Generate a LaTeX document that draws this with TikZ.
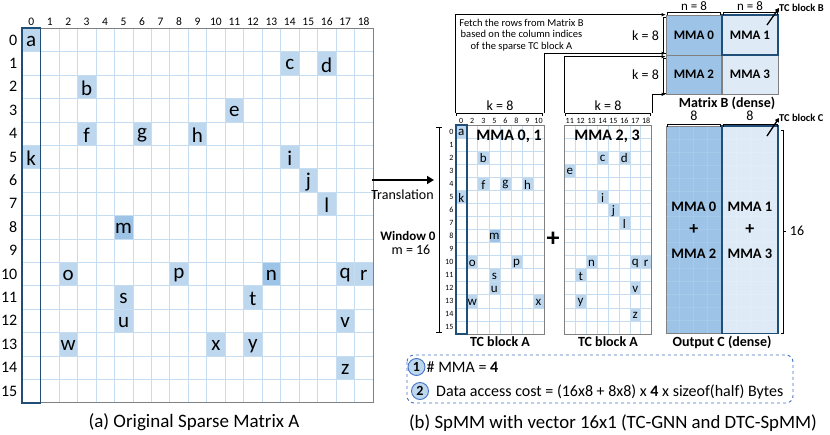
\documentclass[tikz,border=0pt]{standalone}
\usepackage{fontspec}
\setmainfont{Carlito}
\usetikzlibrary{arrows.meta,calc}
\definecolor{cellblue}{HTML}{BDD7EE}
\definecolor{cellbluedark}{HTML}{9DC3E6}
\definecolor{gridblue}{HTML}{C5DCF1}
\definecolor{darkblue}{HTML}{1F4E79}
\definecolor{lightfill}{HTML}{DEEBF7}
\definecolor{bordergray}{HTML}{808080}
\definecolor{legendblue}{HTML}{4472C4}
\newcommand{\fsz}[1]{\fontsize{#1}{#1}\selectfont}
\tikzset{
  grid line/.style={draw=gridblue, line width=0.6pt},
  faint line/.style={draw=white, opacity=0.12, line width=0.6pt},
  outer/.style={draw=bordergray, line width=0.8pt},
  hilite/.style={draw=darkblue, line width=1.8pt},
  bigletter/.style={inner sep=0pt, font=\fsz{21}, yshift=-1.5pt},
  smallletter/.style={inner sep=0pt, font=\fsz{13}, yshift=-0.8pt},
  collabel/.style={inner sep=0pt, font=\fsz{11.5}},
  rowlabel/.style={inner sep=0pt, font=\fsz{16}, anchor=east},
  tinylabel/.style={inner sep=0pt, font=\fsz{8}},
  boldlabel/.style={inner sep=0pt, font=\bfseries\fsz{14}},
  plainlabel/.style={inner sep=0pt, font=\fsz{14}},
  bracket/.style={draw=black, line width=0.6pt},
  fetch/.style={draw=black, line width=0.7pt, -{Latex[length=4pt,width=3.5pt]}},
  callout/.style={draw=black, line width=1.3pt, -{Triangle[length=4pt,width=4.5pt]}},
  bcell/.style={minimum width=55.7pt, inner sep=0pt, font=\bfseries\fsz{13}, draw=bordergray, line width=0.6pt},
  numcircle/.style={circle, draw=legendblue, fill=cellblue, line width=0.9pt, minimum size=17pt, inner sep=0pt, font=\bfseries\fsz{14}},
}
\begin{document}
\begin{tikzpicture}[x=1pt,y=-1pt]
\useasboundingbox (0,0) rectangle (830,435);
\fill[white] (0,0) rectangle (830,435);

% ================= Left matrix =================
\def\LX{22} \def\LY{28.3} \def\LW{18.47} \def\LH{23.4}
\foreach \c/\r/\t in {0/0/a,14/1/c,16/1/d,3/2/b,11/3/e,3/4/f,6/4/g,9/4/h,0/5/k,14/5/i,15/6/j,16/7/l,2/10/o,8/10/p,17/10/q,18/10/r,5/11/s,12/11/t,5/12/u,17/12/v,2/13/w,10/13/x,12/13/y,17/14/z}{
  \fill[cellblue] (\LX+\c*\LW,\LY+\r*\LH) rectangle ++(\LW,\LH);
}
\foreach \c/\r in {5/8,13/10}{
  \fill[cellbluedark] (\LX+\c*\LW,\LY+\r*\LH) rectangle ++(\LW,\LH);
}
\foreach \i in {1,...,18} \draw[grid line] (\LX+\i*\LW,\LY) -- ++(0,16*\LH);
\foreach \j in {1,...,15} \draw[grid line] (\LX,\LY+\j*\LH) -- ++(19*\LW,0);
\draw[outer] (\LX,\LY) rectangle ++(19*\LW,16*\LH);
\foreach \c/\r/\t in {0/0/a,14/1/c,16/1/d,3/2/b,11/3/e,3/4/f,6/4/g,9/4/h,0/5/k,14/5/i,15/6/j,16/7/l,5/8/m,2/10/o,8/10/p,13/10/n,17/10/q,18/10/r,5/11/s,12/11/t,5/12/u,17/12/v,2/13/w,10/13/x,12/13/y,17/14/z}{
  \node[bigletter] (L-\t) at (\LX+\c*\LW+0.5*\LW,\LY+\r*\LH+0.5*\LH) {\t};
}
\draw[hilite] (\LX,\LY) rectangle ++(\LW,16*\LH);
\foreach \i in {0,...,18} \node[collabel] (LC-\i) at (\LX+\i*\LW+0.5*\LW,21.5) {\i};
\foreach \j in {0,...,15} \node[rowlabel] (LR-\j) at (17.5,\LY+\j*\LH+0.5*\LH) {\j};
\node[font=\fsz{19}, inner sep=0pt] (capA) at (194,422) {(a) Original Sparse Matrix A};

% ================= Translation =================
\coordinate (trS) at (372,180);
\coordinate (trE) at (434,180);
\draw[line width=2.2pt, -{Triangle[length=7pt,width=8pt]}] (trS) -- (trE);
\node[plainlabel] (trans) at (402.5,195) {Translation};
\node[font=\bfseries\fsz{13}, inner sep=0pt] (win) at (408,236) {Window 0};
\node[plainlabel] (mlab) at (411,250) {m = 16};
\coordinate (wbT) at (439,127);
\coordinate (wbB) at (439,332);
\draw[bracket] (wbT) -- (wbB);
\draw[bracket] ([xshift=-3pt]wbT) -- ([xshift=3pt]wbT);
\draw[bracket] ([xshift=-3pt]wbB) -- ([xshift=3pt]wbB);

% ================= TC block A (1) =================
\def\AX{455.7} \def\AY{125} \def\AW{11.04} \def\AH{13.06}
\foreach \c/\r/\t in {0/0/a,0/5/k,2/2/b,2/4/f,4/4/g,6/4/h,1/10/o,5/10/p,3/11/s,3/12/u,1/13/w,7/13/x}{
  \fill[cellblue] (\AX+\c*\AW,\AY+\r*\AH) rectangle ++(\AW,\AH);
}
\fill[cellbluedark] (\AX+3*\AW,\AY+8*\AH) rectangle ++(\AW,\AH);
\foreach \i in {1,...,7} \draw[grid line] (\AX+\i*\AW,\AY) -- ++(0,16*\AH);
\foreach \j in {1,...,15} \draw[grid line] (\AX,\AY+\j*\AH) -- ++(8*\AW,0);
\draw[outer] (\AX,\AY) rectangle ++(8*\AW,16*\AH);
\foreach \c/\r/\t in {0/0/a,0/5/k,2/2/b,2/4/f,4/4/g,6/4/h,3/8/m,1/10/o,5/10/p,3/11/s,3/12/u,1/13/w,7/13/x}{
  \node[smallletter] (A-\t) at (\AX+\c*\AW+0.5*\AW,\AY+\r*\AH+0.5*\AH) {\t};
}
\draw[hilite] (\AX,\AY) rectangle ++(\AW,16*\AH);
\foreach \lab [count=\i from 0] in {0,2,3,5,6,8,9,10}
  \node[tinylabel] (AC-\i) at (\AX+\i*\AW+0.5*\AW,120.5) {\lab};
\foreach \j in {0,...,15} \node[tinylabel, anchor=east] (AR-\j) at (453.5,\AY+\j*\AH+0.5*\AH) {\j};
\node[font=\bfseries\fsz{16}, inner sep=0pt] (mma01) at (509,136) {MMA 0, 1};
\node[boldlabel] (capTA1) at (500,342) {TC block A};
\coordinate (kA1l) at (456.7,113);
\coordinate (kA1r) at (542.7,113);
\draw[bracket] ([yshift=-3pt]kA1l) -- (kA1l) -- (kA1r) -- ([yshift=-3pt]kA1r);
\node[plainlabel] (kA1) at (500,106) {k = 8};

\node[font=\bfseries\fsz{26}, inner sep=0pt] (plus) at (553,239) {+};

% ================= TC block A (2) =================
\def\BX{564.3} \def\BW{10.92}
\foreach \c/\r/\t in {3/2/c,5/2/d,0/3/e,3/5/i,4/6/j,5/7/l,2/10/n,6/10/q,7/10/r,1/11/t,6/12/v,1/13/y,6/14/z}{
  \fill[cellblue] (\BX+\c*\BW,\AY+\r*\AH) rectangle ++(\BW,\AH);
}
\foreach \i in {1,...,7} \draw[grid line] (\BX+\i*\BW,\AY) -- ++(0,16*\AH);
\foreach \j in {1,...,15} \draw[grid line] (\BX,\AY+\j*\AH) -- ++(8*\BW,0);
\draw[outer] (\BX,\AY) rectangle ++(8*\BW,16*\AH);
\foreach \c/\r/\t in {3/2/c,5/2/d,0/3/e,3/5/i,4/6/j,5/7/l,2/10/n,6/10/q,7/10/r,1/11/t,6/12/v,1/13/y,6/14/z}{
  \node[smallletter] (B-\t) at (\BX+\c*\BW+0.5*\BW,\AY+\r*\AH+0.5*\AH) {\t};
}
\foreach \lab [count=\i from 0] in {11,12,13,14,15,16,17,18}
  \node[tinylabel] (BC-\i) at (\BX+\i*\BW+0.5*\BW,120.5) {\lab};
\node[font=\bfseries\fsz{16}, inner sep=0pt] (mma23) at (607,136) {MMA 2, 3};
\node[boldlabel] (capTA2) at (608,342) {TC block A};
\coordinate (kA2l) at (565,113);
\coordinate (kA2r) at (650,113);
\draw[bracket] ([yshift=-3pt]kA2l) -- (kA2l) -- (kA2r) -- ([yshift=-3pt]kA2r);
\node[plainlabel] (kA2) at (608,106) {k = 8};

% ================= Matrix B =================
\node[bcell, fill=cellbluedark, minimum height=40pt] (B0) at (693.85,35) {MMA 0};
\node[bcell, fill=lightfill, minimum height=40pt] (B1) at (749.95,35) {MMA 1};
\node[bcell, fill=cellbluedark, minimum height=39pt] (B2) at (693.85,74.5) {MMA 2};
\node[bcell, fill=lightfill, minimum height=39pt] (B3) at (749.95,74.5) {MMA 3};
\draw[hilite] (B1.north west) rectangle (B1.south east);
\node[boldlabel] (matB) at (727,103) {Matrix B (dense)};
\draw[bracket] (667,15.5) -- (667,12.5) -- (720.5,12.5) -- (720.5,15.5);
\draw[bracket] (723,15.5) -- (723,12.5) -- (777.5,12.5) -- (777.5,15.5);
\node[font=\fsz{13}, inner sep=0pt] (n1) at (694,6.5) {n = 8};
\node[font=\fsz{13}, inner sep=0pt] (n2) at (750,6.5) {n = 8};
\draw[bracket] (666,17.5) -- (663,17.5) -- (663,53) -- (666,53);
\draw[bracket] (666,58) -- (663,58) -- (663,93) -- (666,93);
\node[plainlabel] (kB1) at (645.5,35.5) {k = 8};
\node[plainlabel] (kB2) at (645.5,75) {k = 8};
\coordinate (tcbB) at (767,25);
\node[font=\bfseries\fsz{10.5}, inner sep=0pt, anchor=west] (lblB) at (779,8) {TC block B};
\draw[callout] (tcbB) -- (lblB.west);

% fetch connectors
\node[font=\fsz{10.5}, align=center, inner sep=0pt] (fetch) at (521.5,35) {Fetch the rows from Matrix B\\[1pt]based on the column indices\\[1pt]of the sparse TC block A};
\coordinate (f1) at (455,113);
\coordinate (f2) at (544.3,113);
\coordinate (f3) at (564,113);
\coordinate (f4) at (652.7,113);
\draw[fetch] (f1) |- (B0.north west);
\draw[fetch] (f2) |- ([yshift=2pt]B0.south west);
\draw[fetch] (f3) |- ([yshift=-2pt]B2.north west);
\draw[fetch] (f4) |- (B2.south west);

% ================= Output C =================
\node[bcell, fill=cellbluedark, minimum height=206.6pt] (C0) at (693.85,230) {};
\node[bcell, fill=lightfill, minimum height=206.6pt] (C1) at (749.95,230) {};
\foreach \i in {1,2,3} {
  \draw[faint line] ($(C0.north west)+(\i*13.93,0)$) -- ($(C0.south west)+(\i*13.93,0)$);
  \draw[faint line] ($(C1.north west)+(\i*14.03,0)$) -- ($(C1.south west)+(\i*14.03,0)$);
}
\foreach \j in {1,...,15} {
  \draw[faint line] ($(C0.north west)+(0,\j*12.91)$) -- ($(C1.north east)+(0,\j*12.91)$);
}
\node[font=\bfseries\fsz{14.5}, align=center, inner sep=0pt] (C0t) at (C0.center) {MMA 0\\[9pt]{\fsz{18}+}\\[9pt]MMA 2};
\node[font=\bfseries\fsz{14.5}, align=center, inner sep=0pt] (C1t) at (C1.center) {MMA 1\\[9pt]{\fsz{18}+}\\[9pt]MMA 3};
\draw[hilite] (C1.north west) rectangle (C1.south east);
\draw[bracket] (667,127) -- (667,124.3) -- (720.5,124.3) -- (720.5,127);
\draw[bracket] (723,127) -- (723,124.3) -- (777.5,124.3) -- (777.5,127);
\node[plainlabel] (c8a) at (694,116) {8};
\node[plainlabel] (c8b) at (750,116) {8};
\coordinate (tcbC) at (767,136);
\node[font=\bfseries\fsz{10.5}, inner sep=0pt, anchor=west] (lblC) at (779,118) {TC block C};
\draw[callout] (tcbC) -- (lblC.west);
\draw[bracket] (780.5,130) -- (783.3,130) -- (783.3,333) -- (780.5,333);
\draw[bracket] (783.3,231) -- (786,231);
\node[plainlabel] (sixteen) at (797,231) {16};
\node[boldlabel] (capC) at (722,342) {Output C (dense)};

% ================= Legend =================
\draw[legendblue, dashed, line width=0.9pt, rounded corners=7pt] (407,355) rectangle (793,403);
\node[numcircle] (n1c) at (416.5,367) {1};
\node[numcircle] (n2c) at (420,391) {2};
\node[font=\fsz{16}, inner sep=0pt, anchor=west] (leg1) at (426.5,367.5) {\# MMA = \textbf{4}};
\node[font=\fsz{16}, inner sep=0pt, anchor=west] (leg2) at (436,391.5) {Data access cost = (16x8 + 8x8) x \textbf{4} x sizeof(half) Bytes};
\node[font=\fsz{18.8}, inner sep=0pt] (capB) at (613,423) {(b) SpMM with vector 16x1 (TC-GNN and DTC-SpMM)};
\end{tikzpicture}
\end{document}
